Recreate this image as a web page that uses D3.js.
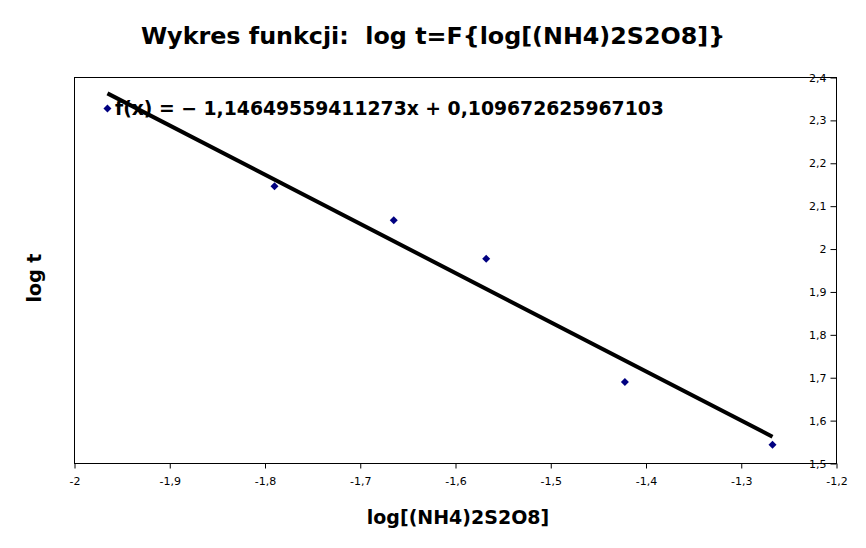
<!DOCTYPE html>
<html><head><meta charset="utf-8">
<script src="https://cdn.jsdelivr.net/npm/d3@7"></script>
<style>body{margin:0;background:#fff}svg{display:block}text{font-family:"DejaVu Sans",sans-serif}</style>
</head><body>
<script>
const xValues = [-1.9654, -1.7900, -1.6648, -1.5678, -1.4222, -1.2672];
const yValues = [2.328, 2.1465, 2.0674, 1.9775, 1.690, 1.544];
const xTicks = [-2, -1.9, -1.8, -1.7, -1.6, -1.5, -1.4, -1.3, -1.2];
const yTicks = [1.5, 1.6, 1.7, 1.8, 1.9, 2.0, 2.1, 2.2, 2.3, 2.4];
const slope = -1.14649559411273, intercept = 0.109672625967103;
const titleText = "Wykres funkcji:  log t=F{log[(NH4)2S2O8]}";
const eqText = "f(x) = \u2212 1,14649559411273x + 0,109672625967103";

const W=866,H=548, L=74.5, R=836.5, T=77.5, B=463.5;
const svg=d3.select("body").append("svg").attr("width",W).attr("height",H);
const x=d3.scaleLinear().domain([-2,-1.2]).range([L,R]);
const y=d3.scaleLinear().domain([1.5,2.4]).range([B,T]);
const fmt=d=>String(+d.toFixed(1)).replace(".",",");

svg.append("rect").attr("x",L).attr("y",T).attr("width",R-L).attr("height",B-T).attr("fill","none").attr("stroke","#000").attr("stroke-width",1);

const xa=svg.append("g").attr("transform",`translate(0,${B})`).call(d3.axisBottom(x).tickValues(xTicks).tickSize(5).tickSizeOuter(0).tickFormat(fmt));
xa.select(".domain").remove();
xa.selectAll("text").attr("font-size",11).attr("font-family","DejaVu Sans").attr("dy","1.25em");
const ya=svg.append("g").attr("transform",`translate(${R},0)`).call(d3.axisLeft(y).tickValues(yTicks).tickSize(6).tickSizeOuter(0).tickFormat(fmt));
ya.select(".domain").remove();
ya.selectAll("text").attr("font-size",11).attr("font-family","DejaVu Sans").attr("x",-10);

const x0=d3.min(xValues), x1=d3.max(xValues);
svg.append("line").attr("x1",x(x0)).attr("y1",y(slope*x0+intercept)).attr("x2",x(x1)).attr("y2",y(slope*x1+intercept)).attr("stroke","#000").attr("stroke-width",4);

svg.selectAll("path.pt").data(xValues).join("path").attr("class","pt")
 .attr("d","M0,-4L4,0L0,4L-4,0Z").attr("transform",(d,i)=>`translate(${x(d)},${y(yValues[i])})`).attr("fill","#000080");

svg.append("text").attr("x",115).attr("y",115).attr("font-size",18.8).attr("font-weight","bold").text(eqText);
svg.append("text").attr("x",433).attr("y",44).attr("text-anchor","middle").attr("font-size",23.8).attr("font-weight","bold").style("white-space","pre").text(titleText);
svg.append("text").attr("x",458).attr("y",524).attr("text-anchor","middle").attr("font-size",19).attr("font-weight","bold").text("log[(NH4)2S2O8]");
svg.append("text").attr("transform","translate(41,278) rotate(-90)").attr("text-anchor","middle").attr("font-size",19).attr("font-weight","bold").text("log t");
</script>
</body></html>
